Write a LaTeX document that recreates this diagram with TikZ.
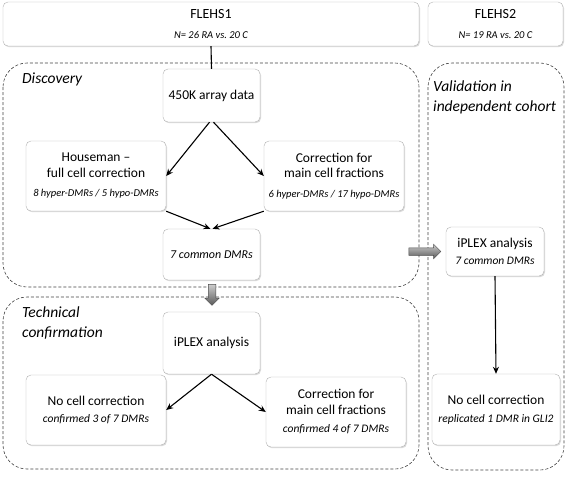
\documentclass[tikz,border=0pt]{standalone}
\usepackage{fontspec}
\setmainfont{Carlito}
\frenchspacing
\usetikzlibrary{arrows.meta,shapes.arrows,shadows}

\newcommand\maintxt{\fontsize{13.5}{15.5}\selectfont}
\newcommand\smalltag[1]{{\fontsize{10.5}{12}\selectfont\itshape #1}}
\newcommand\regiontxt{\fontsize{15.5}{20}\selectfont\itshape}

\tikzset{
  box/.style={draw=black!30, fill=white, rounded corners=5pt, align=center,
    inner sep=2pt, font=\maintxt,
    drop shadow={shadow xshift=1pt, shadow yshift=-1.2pt, opacity=0.3}},
  region/.style={draw=black!75, dash pattern=on 3pt off 2pt, line width=0.6pt, rounded corners=24pt},
  regionlabel/.style={anchor=north west, align=left, inner sep=0pt, font=\regiontxt},
  flow/.style={-{Stealth[length=7pt,width=6pt]}, line width=1.1pt},
  blockarrow/.style={single arrow, draw=black!70, line width=0.5pt,
    inner sep=3.5pt, single arrow head extend=3.5pt,
    top color=black!20, bottom color=black!65},
}

\begin{document}
\begin{tikzpicture}[x=1pt, y=-1pt]
  \useasboundingbox (0,0) rectangle (567,477);

  % study cohorts
  \node[box, minimum width=416pt, minimum height=44pt] (flehsA) at (211,24)
    {{\fontsize{14}{16}\selectfont FLEHS1}\\[5pt]\smalltag{N= 26 RA vs. 20 C}};
  \node[box, minimum width=135pt, minimum height=44pt] (flehsB) at (495.5,24)
    {{\fontsize{14}{16}\selectfont FLEHS2}\\[5pt]\smalltag{N= 19 RA vs. 20 C}};

  % dashed stages
  \draw[region] (3,63) rectangle (419,287);
  \draw[region] (3,297) rectangle (419,469);
  \draw[region] (428,63) rectangle (564,470);
  \node[regionlabel] (discLbl) at (22,73) {Discovery};
  \node[regionlabel] (techLbl) at (22,307) {Technical\\confirmation};
  \node[regionlabel] (validLbl) at (433,81) {Validation in\\independent cohort};

  % discovery
  \node[box, minimum width=97pt, minimum height=53pt] (array) at (211.5,95.5) {450K array data};
  \node[box, minimum width=140pt, minimum height=70pt] (house) at (96,176)
    {Houseman --\\full cell correction\\[4pt]\smalltag{8 hyper-DMRs / 5 hypo-DMRs}};
  \node[box, minimum width=140pt, minimum height=70pt] (corrA) at (334,176)
    {Correction for\\main cell fractions\\[4pt]\smalltag{6 hyper-DMRs / 17 hypo-DMRs}};
  \node[box, minimum width=97pt, minimum height=51pt] (common) at (211.5,254.5)
    {\smalltag{\fontsize{12}{14}\selectfont 7 common DMRs}};

  % technical confirmation
  \node[box, minimum width=97pt, minimum height=62pt] (iplex) at (211.5,343) {iPLEX analysis};
  \node[box, minimum width=140pt, minimum height=70pt] (nocorr) at (96,410)
    {No cell correction\\[2pt]\smalltag{\fontsize{11.5}{13}\selectfont confirmed 3 of 7 DMRs}};
  \node[box, minimum width=140pt, minimum height=70pt] (corrB) at (336,412)
    {Correction for\\main cell fractions\\[3pt]\smalltag{\fontsize{11.5}{13}\selectfont confirmed 4 of 7 DMRs}};

  % validation
  \node[box, minimum width=98pt, minimum height=49pt] (vplex) at (495,251.5)
    {iPLEX analysis\\[2pt]\smalltag{\fontsize{11.5}{13}\selectfont 7 common DMRs}};
  \node[box, minimum width=128pt, minimum height=71pt] (vnocorr) at (496,409.5)
    {No cell correction\\[2pt]\smalltag{\fontsize{11.5}{13}\selectfont replicated 1 DMR in GLI2}};

  % connectors
  \draw[line width=1.1pt] (flehsA.south) -- (array.north);
  \draw[flow] ([xshift=-2pt]array.south) -- (house.east);
  \draw[flow] ([xshift=2pt]array.south) -- (corrA.west);
  \draw[flow] (house.south east) -- ([xshift=-1pt]common.north);
  \draw[flow] (corrA.south west) -- ([xshift=1pt]common.north);
  \draw[flow] (iplex.south) -- (nocorr.east);
  \draw[flow] (iplex.south) -- (corrB.west);
  \draw[flow] (vplex.south) -- (vnocorr.north);

  % stage transitions
  \node[blockarrow, rotate=-90, minimum height=21pt] (toTech) at (212,293) {};
  \node[blockarrow, minimum height=32pt] (toValid) at (423,251.5) {};
\end{tikzpicture}
\end{document}
